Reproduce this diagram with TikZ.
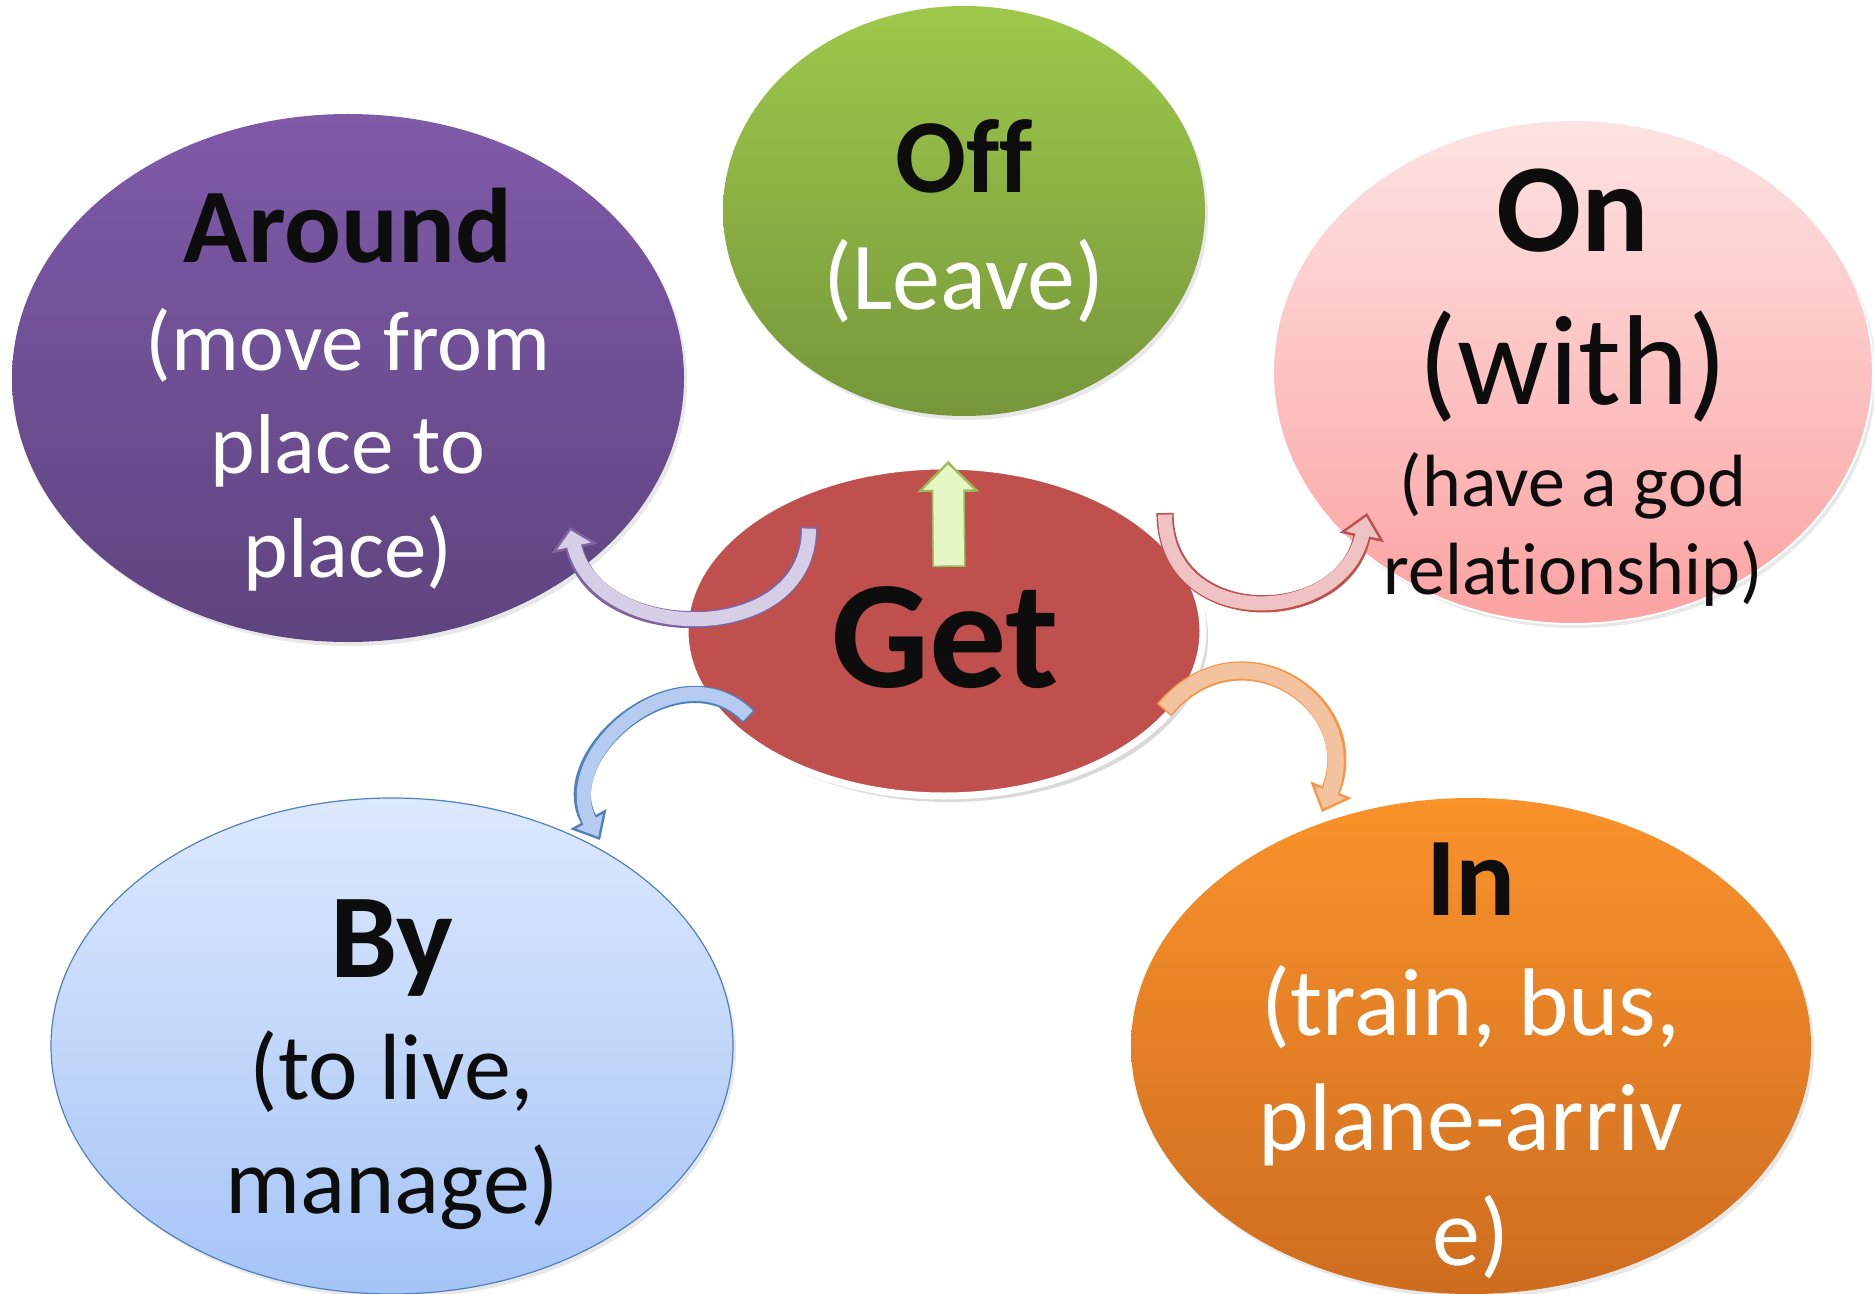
\documentclass[tikz,border=0pt]{standalone}
\usepackage{fontspec}
\setmainfont{Carlito}[Ligatures=NoCommon]
\usetikzlibrary{shapes.geometric, arrows.meta, shadows}

\definecolor{wordblack}{HTML}{0D0D0D}
\definecolor{aroundtop}{HTML}{7F5AA9}
\definecolor{aroundbottom}{HTML}{5E447F}
\definecolor{offtop}{HTML}{9FC84B}
\definecolor{offbottom}{HTML}{76963A}
\definecolor{ontop}{HTML}{FDE3E3}
\definecolor{onbottom}{HTML}{FCA2A2}
\definecolor{getred}{HTML}{C0504D}
\definecolor{bytop}{HTML}{DDE9FC}
\definecolor{bybottom}{HTML}{A5C4F7}
\definecolor{byline}{HTML}{4F81BD}
\definecolor{intop}{HTML}{FA922B}
\definecolor{inbottom}{HTML}{CE6D1F}
\definecolor{aroundline}{HTML}{8064A2}
\definecolor{aroundpale}{HTML}{D6CDE6}
\definecolor{offline}{HTML}{9BBB59}
\definecolor{offpale}{HTML}{E4F7C4}
\definecolor{online}{HTML}{C0504D}
\definecolor{onpale}{HTML}{EFC3C3}
\definecolor{inline}{HTML}{F79646}
\definecolor{inpale}{HTML}{F2C39E}
\definecolor{bypale}{HTML}{B5CBEF}

\begin{document}
\begin{tikzpicture}[x=0.5pt, y=-0.5pt,
    bubble/.style 2 args={ellipse, minimum width=#1pt, minimum height=#2pt, inner sep=0pt},
    softshadow/.style={drop shadow={opacity=0.18, shadow xshift=1.5pt, shadow yshift=-2pt}},
    headword/.style={font=\bfseries\fontsize{#1}{#1}\selectfont, text=wordblack, inner sep=0pt, anchor=base},
    gloss/.style 2 args={font=\fontsize{#1}{#2}\selectfont, align=center, inner sep=0pt, anchor=base},
    blockarrow/.style n args={5}{draw=#2, line width=#3, shorten <=0.8pt, shorten >=#5-2.5pt,
        preaction={draw=#1, line width=#3+1.6pt, shorten <=0pt, shorten >=0pt,
            -{Triangle[width=#4, length=#5, line width=1.2pt, color=#1, fill=#2]}}}
    ]
    \useasboundingbox (0,0) rectangle (1874,1294);

    % Around (top left)
    \node[bubble={336}{264}, top color=aroundtop, bottom color=aroundbottom, softshadow] (around) at (348,378) {};
    \node[headword=53] (aroundword) at ([shift={(0,-115)}]around.center) {Around};
    \node[gloss={42.5}{51.75}, text=white] (aroundgloss) at ([shift={(0,199)}]around.center) {(move from\\place to\\place)};

    % Off (top)
    \node[bubble={241}{205}, top color=offtop, bottom color=offbottom, softshadow] (off) at (964,211) {};
    \node[headword=52.5] (offword) at ([shift={(0,-18)}]off.center) {Off};
    \node[gloss={48}{56}, text=white] (offgloss) at ([shift={(0,99)}]off.center) {(Leave)};

    % On (top right)
    \node[bubble={300}{252}, top color=ontop, bottom color=onbottom, draw=white, line width=1pt, softshadow] (on) at (1573,372) {};
    \node[headword=63] (onword) at ([shift={(0,-120)}]on.center) {On};
    \node[gloss={64}{70}, text=wordblack] (onwith) at ([shift={(0,33)}]on.center) {(with)};
    \node[gloss={37}{44}, text=wordblack] (ongloss) at ([shift={(0,222)}]on.center) {(have a god\\relationship)};

    % By (bottom left)
    \node[bubble={341}{248}, top color=bytop, bottom color=bybottom, draw=byline, line width=0.6pt, softshadow] (by) at (392,1046) {};
    \node[headword=60] (byword) at ([shift={(0,-69)}]by.center) {By};
    \node[gloss={47}{57}, text=wordblack] (bygloss) at ([shift={(0,167)}]by.center) {(to live,\\manage)};

    % In (bottom right)
    \node[bubble={340}{248}, top color=intop, bottom color=inbottom, softshadow] (in) at (1471,1046) {};
    \node[headword=56] (inword) at ([shift={(0,-131)}]in.center) {In};
    \node[gloss={48}{57.5}, text=white] (ingloss) at ([shift={(0,219)}]in.center) {(train, bus,\\plane-arriv\\e)};

    % Get (centre)
    \node[bubble={259}{165}, fill=getred, draw=white, line width=3.5pt,
        drop shadow={opacity=0.3, shadow xshift=2.5pt, shadow yshift=-3pt}] (get) at (944,631) {};
    \node[headword=77] (getword) at ([shift={(1,56)}]get.center) {Get};

    % curved arrows from Get
    \draw[blockarrow={aroundline}{aroundpale}{7pt}{23.5pt}{11pt}]
        ([shift={(-135,-104)}]get.center) to[out=-90, in=-78, looseness=1.3] ([shift={(222,149)}]around.center);
    \draw[blockarrow={offline}{offpale}{15pt}{31pt}{15.5pt}]
        ([shift={(5,-64)}]get.center) -- ([shift={(-16,250)}]off.center);
    \draw[blockarrow={online}{onpale}{7pt}{22.5pt}{12.5pt}]
        ([shift={(221,-118)}]get.center) to[out=-90, in=-102, looseness=1.5] ([shift={(-206,141)}]on.center);
    \draw[blockarrow={byline}{bypale}{7pt}{20.5pt}{12pt}]
        ([shift={(-195,86)}]get.center) to[out=135, in=119, looseness=1.3] ([shift={(208,-206)}]by.center);
    \draw[blockarrow={inline}{inpale}{8pt}{22pt}{12pt}]
        ([shift={(220,79)}]get.center) to[out=50, in=68, looseness=1.6] ([shift={(-149,-234)}]in.center);
\end{tikzpicture}
\end{document}
